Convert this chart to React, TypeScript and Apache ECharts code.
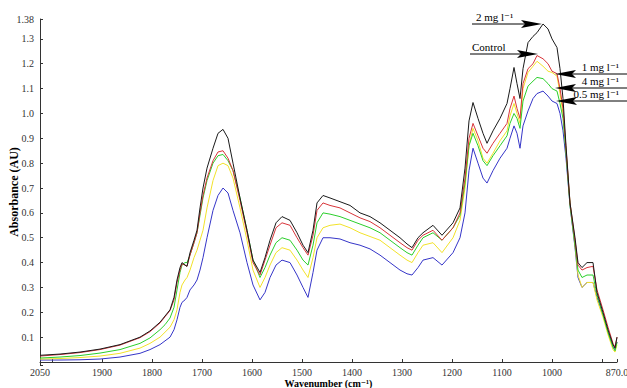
import React, { useEffect, useRef } from "react";
import * as echarts from "echarts";

// Wavenumber grid (cm^-1)
const WAVENUMBERS = [
  2024, 1984, 1944, 1904, 1864, 1824, 1804, 1784, 1774, 1764,
  1756, 1750, 1744, 1740, 1734, 1730, 1724, 1716, 1710, 1704,
  1698, 1690, 1678, 1668, 1658, 1648,
  1638, 1624, 1610, 1598, 1584, 1574, 1564, 1552, 1540, 1524,
  1510, 1498, 1488, 1478, 1470, 1458, 1444, 1424, 1404, 1384,
  1364, 1344, 1324, 1304, 1290, 1280, 1268, 1258, 1238, 1220,
  1198, 1184, 1174, 1166, 1158, 1148, 1138, 1130, 1118, 1104,
  1090, 1084, 1076, 1070, 1064, 1058, 1048, 1038, 1030, 1018,
  1008, 1000, 990, 984, 978, 972, 964, 954, 948, 940,
  930, 918, 910, 898, 888, 878, 874, 870,
];

const TWO_MG = [
  0.027, 0.032, 0.04, 0.052, 0.07, 0.1, 0.125, 0.16, 0.185, 0.21,
  0.26, 0.33, 0.38, 0.4, 0.39, 0.385, 0.44, 0.49, 0.53, 0.62,
  0.7, 0.78, 0.86, 0.92, 0.936, 0.9,
  0.8, 0.66, 0.53, 0.41, 0.36, 0.42, 0.49, 0.56, 0.585, 0.57,
  0.52, 0.47, 0.44, 0.53, 0.64, 0.67, 0.66, 0.645, 0.63, 0.6,
  0.585, 0.56, 0.53, 0.5, 0.475, 0.46, 0.5, 0.52, 0.55, 0.51,
  0.56, 0.62, 0.78, 0.97, 1.044, 0.98, 0.92, 0.88, 0.93, 0.98,
  1.04, 1.1, 1.185, 1.12, 1.06, 1.18, 1.285, 1.31, 1.325, 1.36,
  1.34, 1.3, 1.265, 1.18, 1.06, 0.87, 0.64, 0.5, 0.4, 0.38,
  0.4, 0.4, 0.28, 0.2, 0.13, 0.07, 0.056, 0.1,
];

const CONTROL = [
  0.024, 0.03, 0.038, 0.05, 0.068, 0.098, 0.122, 0.157, 0.182, 0.207,
  0.25, 0.32, 0.37, 0.395, 0.39, 0.385, 0.43, 0.48, 0.52, 0.6,
  0.67, 0.74, 0.81, 0.845, 0.85, 0.82,
  0.77, 0.65, 0.52, 0.4, 0.35, 0.41, 0.47, 0.54, 0.56, 0.55,
  0.5, 0.46, 0.43, 0.51, 0.61, 0.64, 0.63, 0.62, 0.6, 0.58,
  0.565, 0.54, 0.51, 0.48, 0.46, 0.45, 0.49, 0.51, 0.53, 0.49,
  0.54, 0.6, 0.74, 0.9, 0.96, 0.91, 0.86, 0.84, 0.88, 0.92,
  0.96, 1.02, 1.07, 1.02, 0.98, 1.12, 1.18, 1.2, 1.233, 1.22,
  1.2, 1.17, 1.16, 1.1, 1.02, 0.86, 0.64, 0.49, 0.39, 0.37,
  0.38, 0.385, 0.29, 0.21, 0.14, 0.075, 0.06, 0.1,
];

const ONE_MG = [
  0.012, 0.014, 0.018, 0.024, 0.035, 0.056, 0.075, 0.1, 0.12, 0.14,
  0.17, 0.21, 0.28, 0.31, 0.33, 0.34, 0.37, 0.42, 0.45, 0.49,
  0.53, 0.62, 0.73, 0.79, 0.8, 0.79,
  0.74, 0.62, 0.49, 0.37, 0.3, 0.34, 0.39, 0.44, 0.46, 0.45,
  0.41, 0.37, 0.34, 0.42, 0.5, 0.54, 0.55, 0.555, 0.54, 0.52,
  0.505, 0.49, 0.46, 0.43, 0.41, 0.4, 0.44, 0.47, 0.48, 0.44,
  0.5, 0.57, 0.7, 0.87, 0.94, 0.89, 0.82, 0.8, 0.84, 0.89,
  0.93, 0.99, 1.04, 1.0, 0.96, 1.1, 1.165, 1.19, 1.21, 1.19,
  1.17, 1.165, 1.15, 1.08, 1.0, 0.85, 0.64, 0.47, 0.35, 0.3,
  0.32, 0.32, 0.25, 0.18, 0.11, 0.05, 0.04, 0.07,
];

const FOUR_MG = [
  0.016, 0.02, 0.026, 0.036, 0.05, 0.075, 0.097, 0.13, 0.15, 0.177,
  0.22, 0.29, 0.36, 0.39, 0.4, 0.4, 0.43, 0.48, 0.52, 0.59,
  0.66, 0.73, 0.8, 0.83, 0.835, 0.81,
  0.77, 0.66, 0.53, 0.41, 0.34, 0.38, 0.43, 0.48, 0.5, 0.49,
  0.45, 0.41, 0.39, 0.47, 0.56, 0.6, 0.595, 0.585, 0.57, 0.555,
  0.54, 0.52, 0.49, 0.46, 0.44, 0.43, 0.47, 0.5, 0.52, 0.49,
  0.54, 0.59, 0.72, 0.87, 0.92, 0.87, 0.81, 0.79, 0.83, 0.87,
  0.91, 0.96, 1.0, 0.98, 0.94, 1.05, 1.11, 1.13, 1.145, 1.14,
  1.12, 1.1, 1.09, 1.04, 0.98, 0.84, 0.63, 0.47, 0.37, 0.34,
  0.35, 0.35, 0.27, 0.19, 0.12, 0.06, 0.045, 0.08,
];

const HALF_MG = [
  0.008, 0.008, 0.009, 0.012, 0.02, 0.035, 0.05, 0.07, 0.085, 0.1,
  0.13, 0.17, 0.22, 0.24, 0.25, 0.26, 0.29, 0.31, 0.33, 0.37,
  0.42, 0.5, 0.61, 0.67, 0.7, 0.68,
  0.61, 0.52, 0.4, 0.31, 0.25, 0.28, 0.34, 0.39, 0.41, 0.4,
  0.35, 0.3, 0.26, 0.36, 0.45, 0.5, 0.5, 0.495, 0.48, 0.47,
  0.455, 0.43, 0.4, 0.37, 0.355, 0.35, 0.38, 0.41, 0.42, 0.39,
  0.44, 0.5, 0.6, 0.77, 0.86, 0.8, 0.74, 0.72, 0.77, 0.82,
  0.86, 0.9, 0.95, 0.92, 0.86, 0.95, 1.01, 1.06, 1.08, 1.09,
  1.07, 1.05, 1.04, 1.0, 0.93, 0.82, 0.63, 0.46, 0.34, 0.3,
  0.32, 0.32, 0.26, 0.19, 0.12, 0.06, 0.05, 0.08,
];

const SERIES_NAMES = ["0.5 mg l⁻¹", "1 mg l⁻¹", "4 mg l⁻¹", "Control", "2 mg l⁻¹"];
const X_LOW = 870;
const X_HIGH = 2024;
const X_HIGH_LABEL = "2050";
const X_LOW_LABEL = "870.0";
const Y_MIN = -0.012;
const Y_MAX = 1.38;

const serif = "'Liberation Serif', 'DejaVu Serif', serif";

export default function App() {
  const ref = useRef<HTMLDivElement>(null);
  useEffect(() => {
    if (!ref.current) return;
    const chart = echarts.init(ref.current, null, { renderer: "svg" });
    const mk = (vals: number[]) => WAVENUMBERS.map((w, i) => [w, vals[i]]);
    const seriesDefs = [
      { name: SERIES_NAMES[0], vals: HALF_MG, color: "#3535c8" },
      { name: SERIES_NAMES[1], vals: ONE_MG, color: "#f2e22a" },
      { name: SERIES_NAMES[2], vals: FOUR_MG, color: "#2ccf2c" },
      { name: SERIES_NAMES[3], vals: CONTROL, color: "#d8353a" },
      { name: SERIES_NAMES[4], vals: TWO_MG, color: "#1a1a1a" },
    ];
    const txt = (text: string, x: number, y: number, align: string) => ({
      type: "text",
      x,
      y,
      style: {
        text,
        fill: "#000",
        font: `11px ${serif}`,
        align,
        verticalAlign: "bottom",
      },
      z: 10,
    });
    const arrowR = (x1: number, tip: number, y: number) => [
      { type: "line", shape: { x1, y1: y, x2: tip - 16, y2: y }, style: { stroke: "#000", lineWidth: 1 }, z: 10 },
      {
        type: "polygon",
        shape: { points: [[tip - 21, y - 4], [tip, y], [tip - 21, y + 4], [tip - 17, y]] },
        style: { fill: "#000" },
        z: 10,
      },
    ];
    const arrowL = (x1: number, tip: number, y: number) => [
      { type: "line", shape: { x1, y1: y, x2: tip + 16, y2: y }, style: { stroke: "#000", lineWidth: 1 }, z: 10 },
      {
        type: "polygon",
        shape: { points: [[tip + 21, y - 4], [tip, y], [tip + 21, y + 4], [tip + 17, y]] },
        style: { fill: "#000" },
        z: 10,
      },
    ];
    chart.setOption({
      animation: false,
      backgroundColor: "#fff",
      grid: { left: 40, right: 10, top: 19, bottom: 23, containLabel: false, outerBoundsMode: "none" },
      xAxis: {
        type: "value",
        inverse: true,
        min: X_LOW,
        max: X_HIGH,
        splitNumber: 12,
        name: "Wavenumber (cm⁻¹)",
        nameLocation: "middle",
        nameGap: 13,
        nameMoveOverlap: false,
        nameTextStyle: { fontFamily: serif, fontWeight: "bold", fontSize: 10, color: "#000" },
        axisLine: { lineStyle: { color: "#333", width: 1 } },
        axisTick: { inside: true, length: 3, lineStyle: { color: "#333" } },
        splitLine: { show: false },
        axisLabel: {
          showMinLabel: true,
          showMaxLabel: true,
          margin: 2,
          fontFamily: serif,
          fontSize: 10,
          color: "#333",
          formatter: (v: number) => {
            if (v === X_HIGH) return X_HIGH_LABEL;
            if (v === X_LOW) return X_LOW_LABEL;
            if (v === 2000 || v === 900) return "";
            return String(v);
          },
        },
      },
      yAxis: {
        type: "value",
        min: Y_MIN,
        max: Y_MAX,
        splitNumber: 14,
        name: "Absorbance (AU)",
        nameLocation: "middle",
        nameGap: 20,
        nameMoveOverlap: false,
        nameTextStyle: { fontFamily: serif, fontWeight: "bold", fontSize: 12, color: "#000" },
        axisLine: { show: true, lineStyle: { color: "#333", width: 1 } },
        axisTick: { show: true, inside: true, length: 3, lineStyle: { color: "#333" } },
        splitLine: { show: false },
        axisLabel: {
          showMinLabel: true,
          showMaxLabel: true,
          margin: 6,
          fontFamily: serif,
          fontSize: 10,
          color: "#333",
          formatter: (v: number) => {
            if (v === Y_MAX) return "1.38";
            if (v <= 0.001) return "";
            return v.toFixed(1);
          },
        },
      },
      series: seriesDefs.map((s) => ({
        name: s.name,
        type: "line",
        data: mk(s.vals),
        showSymbol: false,
        symbol: "none",
        lineStyle: { color: s.color, width: 1 },
        itemStyle: { color: s.color },
      })),
      graphic: [
        txt(SERIES_NAMES[4], 476, 22, "left"),
        ...arrowR(472, 542, 24),
        txt(SERIES_NAMES[3], 472, 52, "left"),
        ...arrowR(470, 538, 54),
        txt(SERIES_NAMES[1], 619, 72, "right"),
        ...arrowL(627, 555, 74),
        txt(SERIES_NAMES[2], 619, 86, "right"),
        ...arrowL(627, 555, 88),
        txt(SERIES_NAMES[0], 619, 99, "right"),
        ...arrowL(627, 556, 101),
      ],
    });
    return () => chart.dispose();
  }, []);
  return (
    <div
      ref={ref}
      style={{ position: "fixed", left: 0, top: 0, width: 627, height: 388, background: "#fff" }}
    />
  );
}
